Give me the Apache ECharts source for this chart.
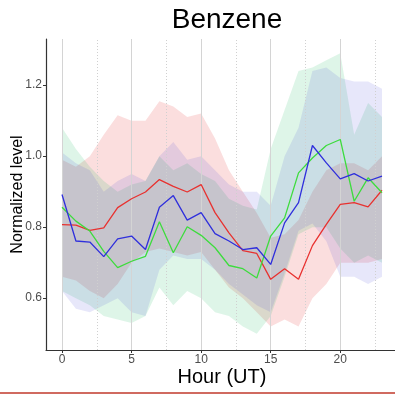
<!DOCTYPE html>
<html><head><meta charset="utf-8">
<script src="https://cdn.jsdelivr.net/npm/echarts@6/dist/echarts.min.js"></script>
<style>html,body{margin:0;padding:0;background:#fff}#c{width:395px;height:396px}</style>
</head><body><div id="c"></div>
<script>
var hours = [0,1,2,3,4,5,6,7,8,9,10,11,12,13,14,15,16,17,18,19,20,21,22,23];
var xTicks = [0,5,10,15,20];
var xMinorGrid = [2.5,7.5,12.5,17.5,22.5];
var yTicks = [0.6,0.8,1.0,1.2];

var redMean   = [0.807,0.806,0.791,0.798,0.855,0.880,0.899,0.934,0.915,0.899,0.920,0.841,0.784,0.734,0.726,0.653,0.683,0.653,0.748,0.808,0.864,0.869,0.857,0.904];
var redUpper  = [0.99,0.97,1.00,1.06,1.115,1.10,1.10,1.155,1.14,1.11,1.12,1.05,0.96,0.90,0.84,0.77,0.78,0.82,0.90,0.96,0.98,0.98,0.96,1.00];
var redLower  = [0.66,0.65,0.62,0.60,0.64,0.70,0.73,0.74,0.73,0.72,0.73,0.68,0.63,0.60,0.56,0.52,0.54,0.52,0.60,0.64,0.70,0.70,0.70,0.71];

var greenMean  = [0.856,0.817,0.789,0.732,0.686,0.704,0.718,0.815,0.728,0.801,0.777,0.742,0.692,0.683,0.657,0.775,0.826,0.953,0.995,1.030,1.047,0.873,0.939,0.897];
var greenUpper = [1.08,1.02,0.97,0.93,0.90,0.92,0.93,1.00,0.96,0.98,0.95,0.93,0.88,0.86,0.85,1.02,1.13,1.24,1.25,1.27,1.29,1.06,1.15,1.11];
var greenLower = [0.62,0.60,0.58,0.55,0.54,0.53,0.55,0.63,0.58,0.62,0.60,0.56,0.55,0.52,0.50,0.55,0.66,0.78,0.80,0.80,0.74,0.70,0.72,0.70];

var blueMean  = [0.892,0.761,0.758,0.717,0.767,0.775,0.737,0.856,0.889,0.820,0.841,0.782,0.761,0.737,0.742,0.695,0.812,0.869,1.030,0.981,0.936,0.951,0.930,0.944];
var blueUpper = [1.01,0.98,0.96,0.90,0.93,0.95,0.93,1.00,1.04,0.99,1.00,0.96,0.92,0.90,0.90,0.86,1.00,1.08,1.24,1.25,1.22,1.21,1.21,1.19];
var blueLower = [0.62,0.57,0.56,0.58,0.60,0.56,0.55,0.68,0.72,0.71,0.71,0.68,0.64,0.61,0.58,0.56,0.67,0.79,0.81,0.76,0.66,0.66,0.64,0.66];

function zip(a){ return hours.map(function(h,i){ return [h, a[i]]; }); }

function ribbon(name, lower, upper, fill){
  var data = hours.map(function(h,i){ return [h, lower[i], upper[i]]; });
  return {
    type:'custom', name:name, silent:true, z:1,
    data:data,
    encode:{x:0, y:[1,2]},
    renderItem:function(params, api){
      if (params.dataIndex !== 0) return null;
      var pts = [];
      for (var i=0;i<data.length;i++) pts.push(api.coord([data[i][0], data[i][2]]));
      for (var j=data.length-1;j>=0;j--) pts.push(api.coord([data[j][0], data[j][1]]));
      return {type:'polygon', shape:{points:pts}, style:{fill:fill, stroke:null}};
    }
  };
}

function line(name, vals, color){
  return {type:'line', name:name, data:zip(vals), symbol:'none', z:5,
    lineStyle:{color:color, width:1.3}, itemStyle:{color:color}};
}

var chart = echarts.init(document.getElementById('c'), null, {renderer:'canvas'});
chart.setOption({
  animation:false,
  backgroundColor:'#ffffff',
  title:{text:'Benzene', left:222, top:1, textAlign:'center',
    textStyle:{fontFamily:'Liberation Sans', fontSize:28, fontWeight:'normal', color:'#000'}},
  grid:{left:46, right:-3, top:39, bottom:46, outerBoundsMode:'none', containLabel:false},
  xAxis:{type:'value', min:-1.15, max:24.15,
    name:'Hour (UT)', nameLocation:'middle', nameGap:17, nameMoveOverlap:false,
    nameTextStyle:{fontFamily:'Liberation Sans', fontSize:20, color:'#000'},
    axisLine:{show:true, onZero:false, lineStyle:{color:'#333', width:1.2}},
    axisTick:{show:true, customValues:xTicks, length:3, lineStyle:{color:'#333'}},
    axisLabel:{customValues:xTicks, margin:4, fontFamily:'Liberation Sans', fontSize:12, color:'#4d4d4d'},
    splitLine:{show:false}},
  yAxis:{type:'value', min:0.454, max:1.33,
    name:'Normalized level', nameLocation:'middle', nameGap:20, nameRotate:90, nameMoveOverlap:false,
    nameTextStyle:{fontFamily:'Liberation Sans', fontSize:16, color:'#000'},
    axisLine:{show:true, onZero:false, lineStyle:{color:'#333', width:1.2}},
    axisTick:{show:true, customValues:yTicks, length:3, lineStyle:{color:'#333'}},
    axisLabel:{customValues:yTicks, margin:4, fontFamily:'Liberation Sans', fontSize:12, color:'#4d4d4d',
      formatter:function(v){ return v.toFixed(1); }},
    splitLine:{show:false}},
  graphic:[{type:'line', shape:{x1:0, y1:393, x2:395, y2:393}, style:{stroke:'#c0392b', lineWidth:1.5}}],
  series:[
    {type:'line', data:[], silent:true, z:0,
      markLine:{silent:true, symbol:'none', label:{show:false},
        data: xTicks.map(function(v){ return {xAxis:v, lineStyle:{color:'#d4d4d4', type:'solid', width:1}}; })
          .concat(xMinorGrid.map(function(v){ return {xAxis:v, lineStyle:{color:'#d0d0d0', type:[1,2], width:1}}; }))}},
    ribbon('redband', redLower, redUpper, 'rgba(230,20,20,0.14)'),
    ribbon('greenband', greenLower, greenUpper, 'rgba(20,185,90,0.14)'),
    ribbon('blueband', blueLower, blueUpper, 'rgba(60,60,210,0.12)'),
    line('red', redMean, '#e8312f'),
    line('green', greenMean, '#3ddc3d'),
    line('blue', blueMean, '#2f2fdc')
  ]
});
</script></body></html>
